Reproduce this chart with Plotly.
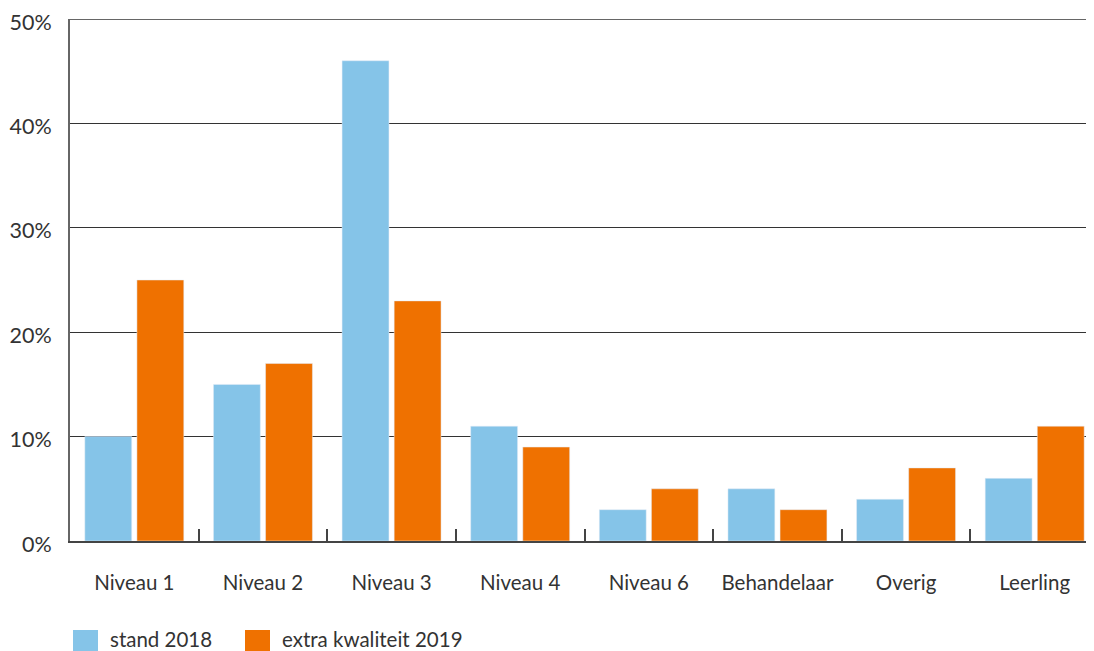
import plotly.graph_objects as go

categories = ["Niveau 1", "Niveau 2", "Niveau 3", "Niveau 4", "Niveau 6", "Behandelaar", "Overig", "Leerling"]
stand_2018 = [10, 15, 46, 11, 3, 5, 4, 6]
extra_2019 = [25, 17, 23, 9, 5, 3, 7, 11]
series_names = ["stand 2018", "extra kwaliteit 2019"]
y_ticks = [0, 10, 20, 30, 40, 50]
y_tick_labels = ["0%", "10%", "20%", "30%", "40%", "50%"]

blue = "#85C4E8"
orange = "#EF7100"
colors = [blue, orange]
font = "Lato, 'Open Sans', sans-serif"

# the page body adds an 8px offset; size the figure so the plot lands where the reference has it
OFF = 8
W, H = 1099 - OFF, 651 - OFF
L, T, B = 70 - OFF, 19 - OFF, 110
pw, ph = W - L, H - T - B

def px(x):  # screenshot x -> paper x
    return (x - OFF - L) / pw

def py(y):  # screenshot y -> paper y
    return (H - B - (y - OFF)) / ph

fig = go.Figure()
fig.add_trace(go.Bar(x=categories, y=stand_2018, name=series_names[0], marker_color=blue, showlegend=False))
fig.add_trace(go.Bar(x=categories, y=extra_2019, name=series_names[1], marker_color=orange, showlegend=False))

# top gridline (plotly omits the grid line on the plot edge)
fig.add_shape(type="line", xref="paper", yref="y", x0=0, x1=1, y0=y_ticks[-1], y1=y_ticks[-1],
              line=dict(color="#333333", width=1.3))

legend_x = [73, 245]
for i, name in enumerate(series_names):
    x0 = legend_x[i]
    fig.add_shape(type="rect", xref="paper", yref="paper",
                  x0=px(x0), x1=px(x0 + 25), y0=py(653), y1=py(630),
                  fillcolor=colors[i], line_width=0)
    fig.add_annotation(xref="paper", yref="paper", x=px(x0 + 35), y=py(639),
                       text=name, showarrow=False, xanchor="left", yanchor="middle",
                       font=dict(size=20.5, color="#333333"))

fig.update_layout(
    width=W, height=H,
    margin=dict(l=L, r=0, t=T, b=B),
    paper_bgcolor="white", plot_bgcolor="white",
    barmode="group", bargap=0.19, bargroupgap=0.1,
    font=dict(family=font, size=20.5, color="#333333"),
    showlegend=False,
)
fig.update_xaxes(
    showline=True, linecolor="#444444", linewidth=2,
    ticks="inside", tickson="boundaries", ticklen=12, tickcolor="#444444", tickwidth=2,
    ticklabelstandoff=22, showgrid=False, automargin=False,
)
fig.update_yaxes(
    range=[0, 50], tickvals=y_ticks, ticktext=y_tick_labels,
    tickfont=dict(size=21.5),
    showgrid=True, gridcolor="#333333", gridwidth=1.3,
    showline=True, linecolor="#666666", linewidth=2,
    zeroline=False, ticks="", ticklabelstandoff=12, ticklabelshift=3, automargin=False,
    ticklabeloverflow="allow",
)
fig.write_html("out.html")
